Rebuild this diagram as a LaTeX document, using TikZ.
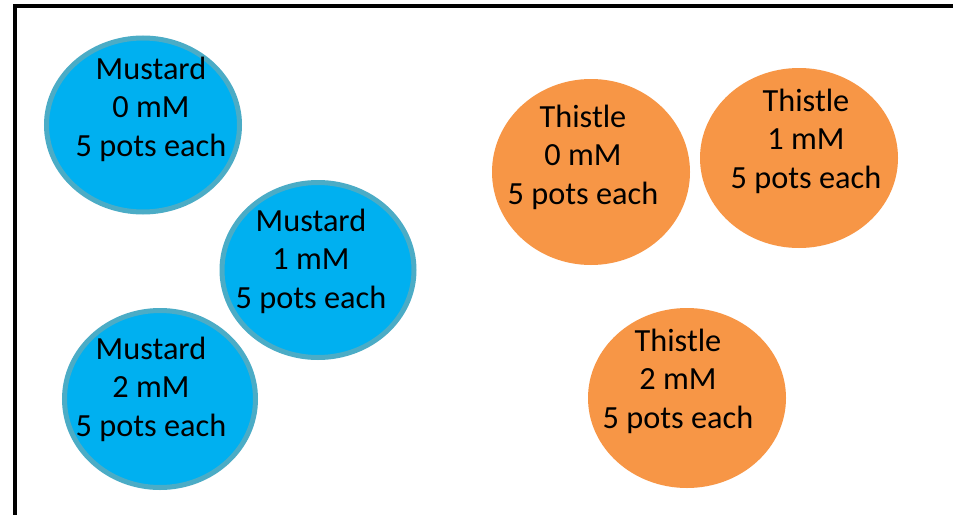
\documentclass[tikz,border=0pt]{standalone}
\usepackage{fontspec}
\setmainfont{Carlito}
\usetikzlibrary{shapes.geometric}
\definecolor{mustardfill}{HTML}{00B0F0}
\definecolor{mustardedge}{HTML}{4BACC6}
\definecolor{thistlefill}{HTML}{F79646}
\begin{document}
\begin{tikzpicture}[x=1pt,y=-1pt,
  pot/.style={ellipse,inner sep=0pt,minimum width=#1},
  mustard/.style={draw=mustardedge,line width=5pt,fill=mustardfill},
  thistle/.style={fill=thistlefill},
  lbl/.style={align=center,font=\fontsize{32.3}{38.5}\selectfont,inner sep=0pt}]
\useasboundingbox (0,0) rectangle (953,514);
\fill[white] (0,0) rectangle (953,514);
% frame
\draw[line width=4.5pt] (15,520) -- (15,6) -- (960,6);
% mustard plots
\node[pot=193pt,minimum height=174pt,mustard] (m0) at (143,125) {};
\node[pot=192pt,minimum height=175pt,mustard] (m1) at (318,270) {};
\node[pot=191pt,minimum height=177pt,mustard] (m2) at (160,399) {};
% thistle plots
\node[pot=198pt,minimum height=186pt,thistle] (t0) at (591,172) {};
\node[pot=198pt,minimum height=180pt,thistle] (t1) at (799,158) {};
\node[pot=198pt,minimum height=180pt,thistle] (t2) at (687,398) {};
% labels
\node[lbl] (m0l) at (151,109) {Mustard\\0 mM\\5 pots each};
\node[lbl] (m1l) at (311,261) {Mustard\\1 mM\\5 pots each};
\node[lbl] (m2l) at (151,389) {Mustard\\2 mM\\5 pots each};
\node[lbl] (t0l) at (583,157) {Thistle\\0 mM\\5 pots each};
\node[lbl] (t1l) at (806,141) {Thistle\\1 mM\\5 pots each};
\node[lbl] (t2l) at (678,381) {Thistle\\2 mM\\5 pots each};
\end{tikzpicture}
\end{document}
